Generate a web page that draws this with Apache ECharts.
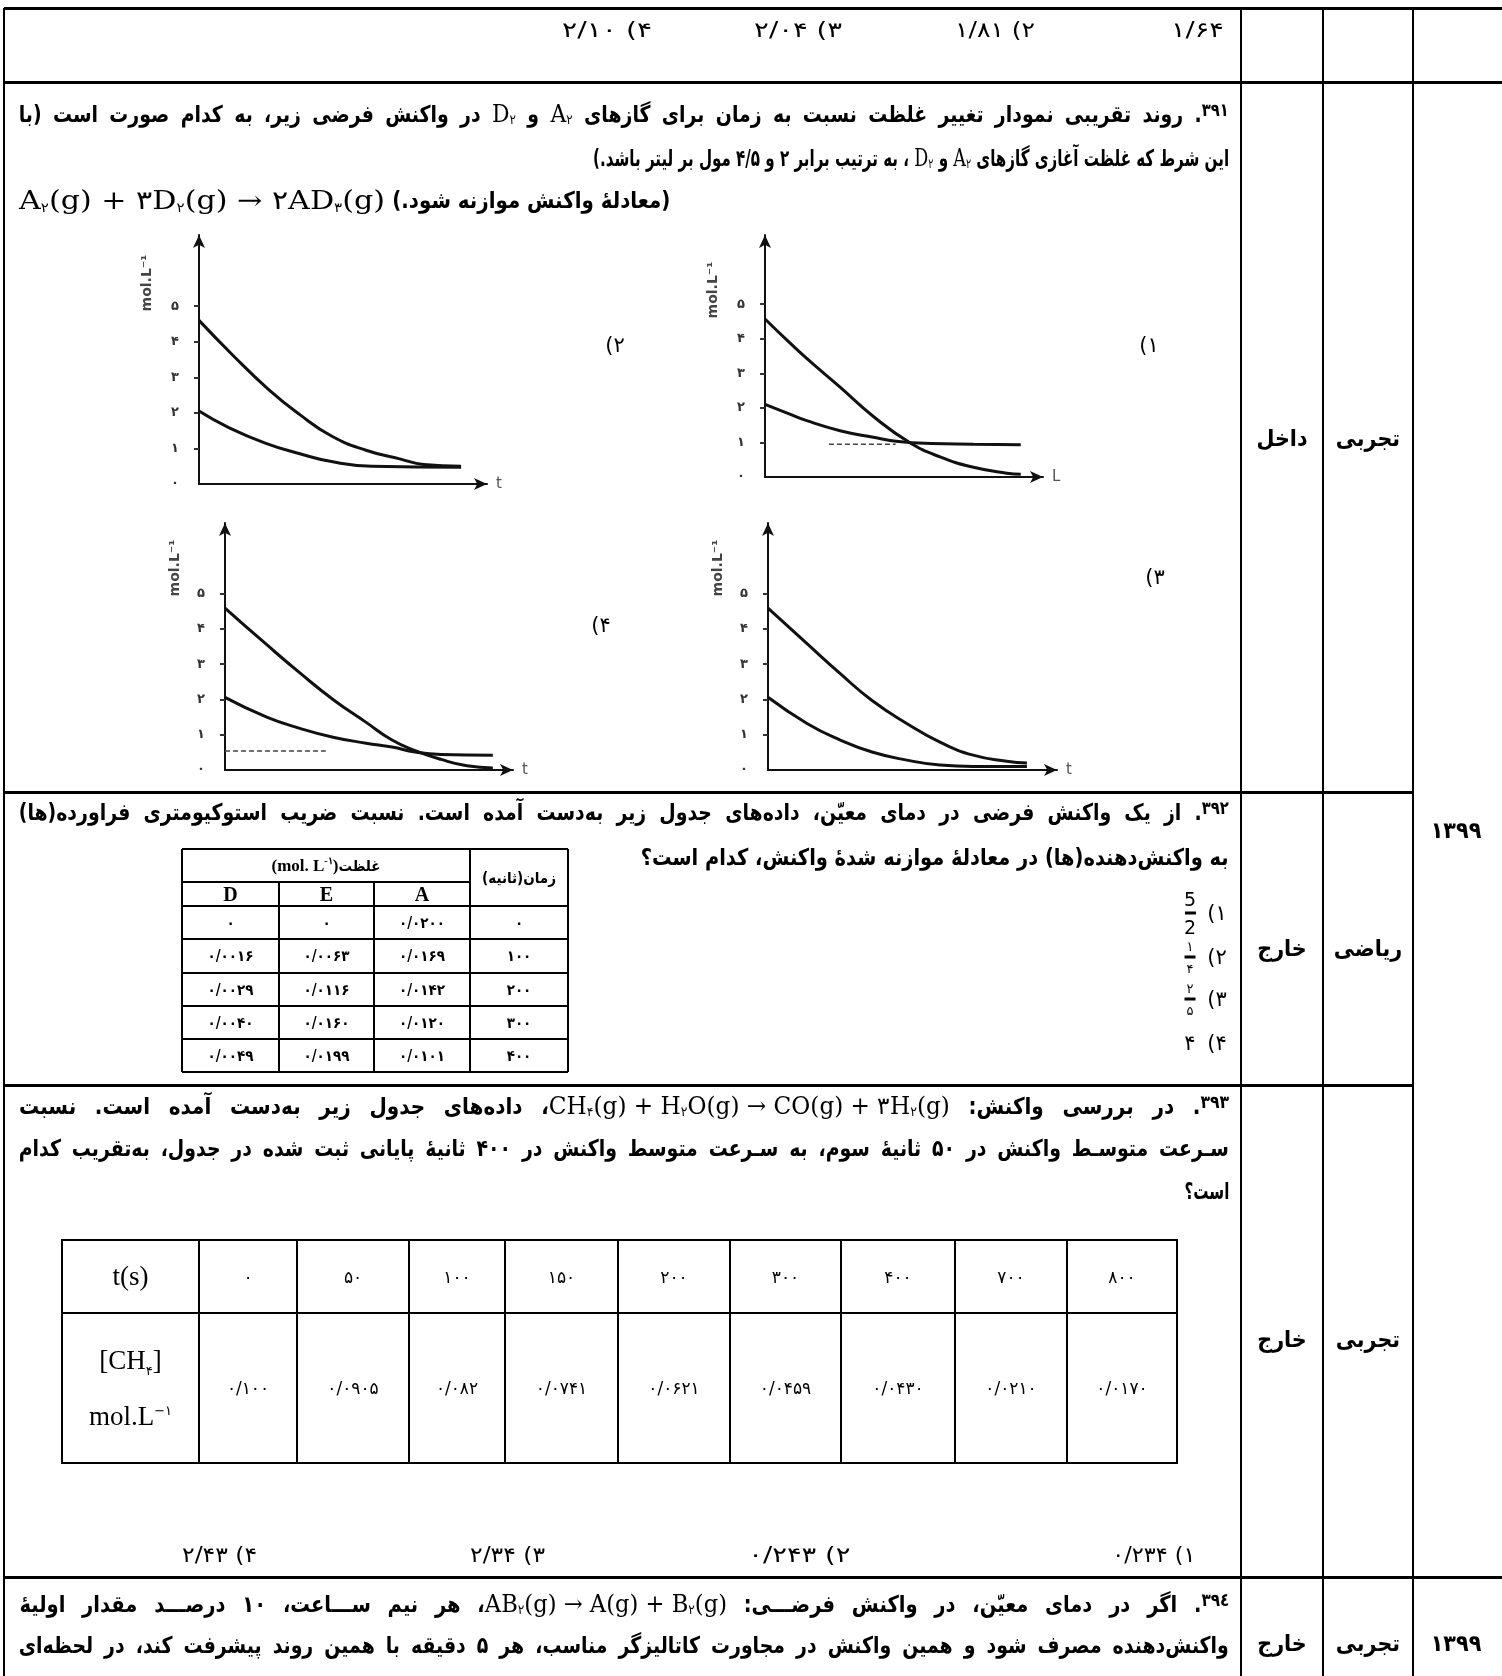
<!DOCTYPE html>
<html>
<head>
<meta charset="utf-8">
<title>۳۹۱-۳۹۴</title>
<script src="https://cdn.jsdelivr.net/npm/echarts@6/dist/echarts.min.js"></script>
<style>
  html, body { margin: 0; padding: 0; background: #fff; }
  #page { position: relative; width: 1502px; height: 1676px; overflow: hidden; background: #fff; }
  #charts { position: absolute; left: 0; top: 0; width: 1502px; height: 1676px; }
  .rule { position: absolute; background: #000; }
  .txt { position: absolute; white-space: nowrap; direction: rtl; color: #000; line-height: 1.35; }
  .cen { position: absolute; white-space: nowrap; color: #000; transform: translate(-50%, -50%); direction: rtl; }
  .cell { position: absolute; display: flex; align-items: center; justify-content: center; text-align: center; color: #000; direction: rtl; }
  .fa { font-family: "DejaVu Sans Condensed", "DejaVu Sans", sans-serif; font-weight: bold; font-size: 23px; }
  .fr { font-family: "DejaVu Sans", sans-serif; font-weight: normal; font-size: 21px; }
  .m { font-family: "DejaVu Serif", "Liberation Serif", serif; font-weight: normal; font-size: 24px; direction: ltr; unicode-bidi: isolate; word-spacing: 0; }
  .m sub { font-family: "DejaVu Sans", sans-serif; font-size: 13px; vertical-align: -0.2em; }
  .qn { font-size: 18px; vertical-align: 0.35em; }
  .t1 { font-family: "DejaVu Sans Condensed", "DejaVu Sans", sans-serif; font-weight: bold; font-size: 15px; }
  .t1h { font-family: "Liberation Serif", "DejaVu Serif", serif; font-weight: bold; font-size: 20px; direction: ltr; }
  .t2 { font-family: "DejaVu Sans", sans-serif; font-size: 17px; }
  .t2h { font-family: "Liberation Serif", "DejaVu Serif", serif; font-size: 27px; direction: ltr; }
  .t2h .ln2 { display: block; height: 56px; line-height: 56px; }
  .t2h sub, .t2h sup { font-family: "DejaVu Sans", sans-serif; font-size: 13px; line-height: 0; }
  .frac { position: absolute; display: flex; flex-direction: column; align-items: center; transform: translate(-50%, -50%); font-family: "DejaVu Sans", sans-serif; line-height: 1; }
  .frac .bar { width: 11px; height: 3px; background: #000; margin: 3px 0; }
</style>
</head>
<body>
<div id="page">
  <div id="charts"></div>
</div>
<script>
// ===== 数据 =====
// 纵轴刻度文字（波斯数字 0~5）
var yTickLabels = ['۰', '۱', '۲', '۳', '۴', '۵'];
// 四个小图的横轴名称：(۱) (۲) (۳) (۴)
var xNames = ['L', 't', 't', 't'];
// 选项(۱) 右上图：横轴为相对时间 0~100，纵轴浓度 mol/L
var c1Upper = [[0, 4.57], [8, 3.95], [15, 3.43], [27, 2.6], [39, 1.75], [52, 1.0], [63, 0.58], [75, 0.28], [87, 0.11], [92, 0.08]];
var c1Lower = [[0, 2.1], [8, 1.85], [15, 1.63], [27, 1.34], [39, 1.15], [48, 1.03], [60, 0.97], [75, 0.95], [92, 0.93]];
var c1Dash = [[23, 0.95], [47, 0.95]];
// 选项(۲) 左上图
var c2Upper = [[0, 4.6], [12, 3.6], [24, 2.67], [35, 1.95], [46, 1.35], [58, 0.95], [70, 0.7], [78, 0.55], [91, 0.5]];
var c2Lower = [[0, 2.05], [10, 1.6], [23, 1.15], [35, 0.85], [46, 0.63], [60, 0.5], [91, 0.47]];
// 选项(۳) 右下图
var c3Upper = [[0, 4.59], [13.5, 3.58], [25, 2.73], [36, 1.97], [48, 1.32], [59.5, 0.79], [71, 0.42], [82.6, 0.25], [89.6, 0.2]];
var c3Lower = [[0, 2.06], [13.5, 1.32], [25, 0.85], [36, 0.51], [48, 0.28], [59.5, 0.14], [71, 0.1], [89.6, 0.1]];
// 选项(۴) 左下图
var c4Upper = [[0, 4.59], [14.5, 3.55], [26, 2.75], [37.5, 2.0], [49, 1.35], [58, 0.85], [66, 0.55], [75, 0.3], [84, 0.12], [93, 0.06]];
var c4Lower = [[0, 2.06], [14.5, 1.5], [26, 1.18], [37.5, 0.93], [49, 0.76], [58, 0.65], [66, 0.51], [75, 0.44], [93, 0.42]];
var c4Dash = [[0, 0.54], [35, 0.54]];

// 题 ۳۹۲ 表格
var t392Time = ['۰', '۱۰۰', '۲۰۰', '۳۰۰', '۴۰۰'];
var t392A = ['۰/۰۲۰۰', '۰/۰۱۶۹', '۰/۰۱۴۲', '۰/۰۱۲۰', '۰/۰۱۰۱'];
var t392E = ['۰', '۰/۰۰۶۳', '۰/۰۱۱۶', '۰/۰۱۶۰', '۰/۰۱۹۹'];
var t392D = ['۰', '۰/۰۰۱۶', '۰/۰۰۲۹', '۰/۰۰۴۰', '۰/۰۰۴۹'];
// 题 ۳۹۳ 表格
var t393Time = ['۰', '۵۰', '۱۰۰', '۱۵۰', '۲۰۰', '۳۰۰', '۴۰۰', '۷۰۰', '۸۰۰'];
var t393Conc = ['۰/۱۰۰', '۰/۰۹۰۵', '۰/۰۸۲', '۰/۰۷۴۱', '۰/۰۶۲۱', '۰/۰۴۵۹', '۰/۰۴۳۰', '۰/۰۲۱۰', '۰/۰۱۷۰'];

// ===== 1. 四个小图（一个echarts实例，四个grid） =====
(function () {
  var myChart = echarts.init(document.getElementById('charts'));

  var grids = [
    { left: 765, top: 235, width: 278, height: 242 },
    { left: 199, top: 235, width: 288, height: 249 },
    { left: 768, top: 523, width: 289, height: 247 },
    { left: 225, top: 523, width: 288, height: 247 }
  ];
  var lines = [
    [c1Upper, c1Lower, c1Dash],
    [c2Upper, c2Lower, null],
    [c3Upper, c3Lower, null],
    [c4Upper, c4Lower, c4Dash]
  ];
  // 纵轴名称位置 mol.L-1（旋转文字）
  var yNamePos = [[713, 290], [147, 283], [718, 568], [175, 568]];

  var axisLine = {
    show: true,
    onZero: false,
    symbol: ['none', 'arrow'],
    symbolSize: [9, 13],
    lineStyle: { color: '#111', width: 2 }
  };

  var xAxis = [], yAxis = [], series = [], graphic = [];
  grids.forEach(function (g, i) {
    g.containLabel = false;
    xAxis.push({
      gridIndex: i,
      type: 'value',
      min: 0,
      max: 100,
      axisLine: axisLine,
      axisTick: { show: false },
      axisLabel: { show: false },
      splitLine: { show: false },
      name: xNames[i],
      nameLocation: 'end',
      nameGap: 9,
      nameTextStyle: { fontSize: 15, color: '#555', fontFamily: 'DejaVu Sans' }
    });
    yAxis.push({
      gridIndex: i,
      type: 'value',
      min: 0,
      max: 7,
      interval: 1,
      axisLine: axisLine,
      axisTick: { show: true, length: 5, customValues: [1, 2, 3, 4, 5], lineStyle: { color: '#333', width: 2 } },
      axisLabel: {
        customValues: [0, 1, 2, 3, 4, 5],
        margin: 20,
        fontSize: 13,
        fontWeight: 'bold',
        fontFamily: 'DejaVu Sans',
        color: '#333',
        formatter: function (v) { return v <= 5 ? yTickLabels[v] : ''; }
      },
      splitLine: { show: false }
    });
    for (var k = 0; k < 2; k++) {
      series.push({
        type: 'line',
        xAxisIndex: i,
        yAxisIndex: i,
        data: lines[i][k],
        smooth: 0.5,
        showSymbol: false,
        silent: true,
        lineStyle: { color: '#111', width: 3 }
      });
    }
    if (lines[i][2]) {
      series.push({
        type: 'line',
        xAxisIndex: i,
        yAxisIndex: i,
        data: lines[i][2],
        showSymbol: false,
        silent: true,
        lineStyle: { color: '#444', width: 1.5, type: [5, 3] }
      });
    }
    graphic.push({
      type: 'text',
      x: yNamePos[i][0],
      y: yNamePos[i][1],
      rotation: Math.PI / 2,
      silent: true,
      style: {
        text: 'mol.L⁻¹',
        fontSize: 14,
        fontWeight: 'bold',
        fontFamily: 'DejaVu Sans',
        fill: '#444',
        align: 'center',
        verticalAlign: 'middle'
      }
    });
  });

  var option = {
    animation: false,
    backgroundColor: 'transparent',
    grid: grids,
    xAxis: xAxis,
    yAxis: yAxis,
    series: series,
    graphic: graphic
  };
  myChart.setOption(option);
  window.addEventListener('resize', function () {
    myChart.resize();
  });
})();

// ===== 2. 页面表格线与文字 =====
(function () {
  var W = 1502;
  var page = document.getElementById('page');
  var S = 1; // 正文字形横向压缩比例（由一行非两端对齐的文字标定）
  function fa(s) { return s.replace(/~/g, '\u200c'); }

  function hline(x1, x2, y, t) {
    var d = document.createElement('div');
    d.className = 'rule';
    d.style.cssText = 'left:' + x1 + 'px;top:' + (y - t / 2) + 'px;width:' + (x2 - x1) + 'px;height:' + t + 'px';
    page.appendChild(d);
  }
  function vline(x, y1, y2, t) {
    var d = document.createElement('div');
    d.className = 'rule';
    d.style.cssText = 'left:' + (x - t / 2) + 'px;top:' + y1 + 'px;width:' + t + 'px;height:' + (y2 - y1) + 'px';
    page.appendChild(d);
  }
  function makeText(html, cls, r, l, y, ltr) {
    var el = document.createElement('div');
    el.className = 'txt ' + cls;
    el.innerHTML = html;
    if (ltr) {
      el.style.left = l + 'px';
      el.style.direction = 'ltr';
      el.style.transformOrigin = 'left center';
    } else {
      el.style.right = (W - r) + 'px';
      el.style.transformOrigin = 'right center';
    }
    el.style.top = y + 'px';
    page.appendChild(el);
    return el;
  }
  // 一行文字：右端 r，若给出 l 则横向缩放到 l~r；未给出 l 则使用正文比例 S
  function putText(html, cls, r, l, y, ltr) {
    var el = makeText(html, cls, r, l, y, ltr);
    var w = el.getBoundingClientRect().width;
    var sx = (l != null && r != null) ? (r - l) / w : S;
    el.style.transform = 'translateY(-50%) scaleX(' + sx + ')';
    return sx;
  }
  // 两端对齐的整行：字形最多放宽到 1.25*S，剩余空间分配给词间距
  function putJust(html, cls, r, l, y) {
    var el = makeText(html, cls, r, l, y, false);
    var avail = r - l;
    var w = el.getBoundingClientRect().width;
    var g = Math.min(avail / w, S * 1.25);
    if (g < avail / w) {
      var n = (el.textContent.match(/ /g) || []).length || 1;
      el.style.wordSpacing = ((avail / g - w) / n) + 'px';
      w = el.getBoundingClientRect().width;
    }
    el.style.transform = 'translateY(-50%) scaleX(' + (avail / w) + ')';
  }
  function putCenter(html, cls, x, y) {
    var el = document.createElement('div');
    el.className = 'cen ' + cls;
    el.innerHTML = html;
    el.style.left = x + 'px';
    el.style.top = y + 'px';
    page.appendChild(el);
  }
  function cell(html, cls, x1, y1, x2, y2) {
    var el = document.createElement('div');
    el.className = 'cell ' + cls;
    el.innerHTML = html;
    el.style.cssText = 'left:' + x1 + 'px;top:' + y1 + 'px;width:' + (x2 - x1) + 'px;height:' + (y2 - y1) + 'px';
    page.appendChild(el);
  }
  function frac(top, bottom, x, y, size) {
    var el = document.createElement('div');
    el.className = 'frac';
    el.style.left = x + 'px';
    el.style.top = y + 'px';
    el.style.fontSize = size + 'px';
    el.innerHTML = '<span>' + top + '</span><span class="bar"></span><span>' + bottom + '</span>';
    page.appendChild(el);
  }

  // 外框与行列线
  hline(4, W, 8, 3);
  vline(4, 8, 1676, 2);
  vline(1241, 8, 1676, 2);
  vline(1323, 8, 1676, 2);
  vline(1413, 8, 1676, 2);
  hline(4, W, 82, 3);
  hline(4, 1414, 792, 3);
  hline(4, 1414, 1085, 3);
  hline(4, W, 1577, 3);

  // 第一行：上一题选项
  putText('۱/۶۴', 'fr', 1224, 1171, 30);
  putText('۲) ۱/۸۱', 'fr', 1035, 955, 30);
  putText('۳) ۲/۰۴', 'fr', 842, 754, 30);
  putText('۴) ۲/۱۰', 'fr', 652, 562, 30);

  // 题 ۳۹۱
  var A2 = '<span class="m">A<sub>۲</sub></span>';
  var D2 = '<span class="m">D<sub>۲</sub></span>';
  S = putText(fa('این شرط که غلظت آغازی گازهای  ' + A2 + ' و ' + D2 + ' ، به ترتیب برابر ۲ و ۴/۵ مول بر لیتر باشد.)'), 'fa', 1229, 593, 158);
  putJust(fa('<span class="qn">۳۹۱</span>. روند تقریبی نمودار تغییر غلظت نسبت به زمان برای گازهای ' + A2 + ' و ' + D2 + ' در واکنش فرضی زیر، به کدام صورت است (با'), 'fa', 1229, 19, 114);
  putText('(معادلهٔ واکنش موازنه شود.)', 'fa', 670, 392, 201);
  putText('<span class="m" style="font-size:26px">A<sub>۲</sub>(g) + ۳D<sub>۲</sub>(g) → ۲AD<sub>۳</sub>(g)</span>', 'fr', 385, 19, 201, true);
  putCenter('۲)', 'fr', 615, 345);
  putCenter('۱)', 'fr', 1149, 345);
  putCenter('۴)', 'fr', 601, 625);
  putCenter('۳)', 'fr', 1155, 577);
  putCenter('داخل', 'fa', 1282, 438);
  putCenter('تجربی', 'fa', 1368, 438);
  putCenter('۱۳۹۹', 'fa', 1456, 830);

  // 题 ۳۹۲
  putJust(fa('<span class="qn">۳۹۲</span>. از یک واکنش فرضی در دمای معیّن، داده~های جدول زیر به~دست آمده است. نسبت ضریب استوکیومتری فراورده(ها)'), 'fa', 1229, 19, 812);
  putText(fa('به واکنش~دهنده(ها) در معادلهٔ موازنه شدهٔ واکنش، کدام است؟'), 'fa', 1229, 641, 858);
  putCenter('۱)', 'fr', 1217, 913);
  putCenter('۲)', 'fr', 1217, 957);
  putCenter('۳)', 'fr', 1217, 999);
  putCenter('۴)', 'fr', 1217, 1043);
  frac('5', '2', 1190, 913, 19);
  frac('۱', '۴', 1190, 957, 13);
  frac('۲', '۵', 1190, 999, 13);
  putCenter('۴', 'fr', 1190, 1043);
  putCenter('خارج', 'fa', 1282, 948);
  putCenter('ریاضی', 'fa', 1368, 948);

  // 题 ۳۹۲ 的表格
  var tc = [182, 279, 374, 470, 568];
  var tr = [849, 882, 906, 939, 973, 1006, 1039, 1072];
  hline(tc[0], tc[4], tr[0], 2);
  hline(tc[0], tc[3], tr[1], 1.5);
  for (var i = 2; i < tr.length; i++) hline(tc[0], tc[4], tr[i], i === tr.length - 1 ? 2 : 1.5);
  vline(tc[0], tr[0], tr[7], 2);
  vline(tc[4], tr[0], tr[7], 2);
  vline(tc[3], tr[0], tr[7], 1.5);
  vline(tc[1], tr[1], tr[7], 1.5);
  vline(tc[2], tr[1], tr[7], 1.5);
  cell('غلظت <span style="direction:ltr;unicode-bidi:isolate;font-family:\'Liberation Serif\',serif;font-size:17px">(mol. L<sup style="font-size:10px">-۱</sup>)</span>', 't1', tc[0], tr[0], tc[3], tr[1]);
  cell('زمان(ثانیه)', 't1', tc[3], tr[0], tc[4], tr[2]);
  cell('D', 't1h', tc[0], tr[1], tc[1], tr[2]);
  cell('E', 't1h', tc[1], tr[1], tc[2], tr[2]);
  cell('A', 't1h', tc[2], tr[1], tc[3], tr[2]);
  for (var r = 0; r < t392Time.length; r++) {
    cell(t392D[r], 't1', tc[0], tr[r + 2], tc[1], tr[r + 3]);
    cell(t392E[r], 't1', tc[1], tr[r + 2], tc[2], tr[r + 3]);
    cell(t392A[r], 't1', tc[2], tr[r + 2], tc[3], tr[r + 3]);
    cell(t392Time[r], 't1', tc[3], tr[r + 2], tc[4], tr[r + 3]);
  }

  // 题 ۳۹۳
  var eq393 = '<span class="m">CH<sub>۴</sub>(g) + H<sub>۲</sub>O(g) → CO(g) + ۳H<sub>۲</sub>(g)</span>';
  putJust(fa('<span class="qn">۳۹۳</span>. در بررسی واکنش: ' + eq393 + '، داده~های جدول زیر به~دست آمده است. نسبت'), 'fa', 1229, 19, 1106);
  putJust(fa('سـرعت متوسـط واکنش در ۵۰ ثانیهٔ سوم، به سـرعت متوسط واکنش در ۴۰۰ ثانیهٔ پایانی ثبت شده در جدول، به~تقریب کدام'), 'fa', 1229, 19, 1149);
  putText('است؟', 'fa', 1229, null, 1192);
  putCenter('خارج', 'fa', 1282, 1339);
  putCenter('تجربی', 'fa', 1368, 1339);

  // 题 ۳۹۳ 的表格
  var bc = [62, 199, 297, 409, 505, 618, 730, 841, 955, 1067, 1177];
  var br = [1240, 1313, 1463];
  br.forEach(function (y) { hline(bc[0] - 1, bc[bc.length - 1] + 1, y, 2.5); });
  bc.forEach(function (x) { vline(x, br[0], br[2], 2.5); });
  cell('t(s)', 't2h', bc[0], br[0], bc[1], br[1]);
  cell('<div><span class="ln2">[CH<sub>۴</sub>]</span><span class="ln2">mol.L<sup>−۱</sup></span></div>', 't2h', bc[0], br[1], bc[1], br[2]);
  for (var c = 0; c < t393Time.length; c++) {
    cell(t393Time[c], 't2', bc[c + 1], br[0], bc[c + 2], br[1]);
    cell(t393Conc[c], 't2', bc[c + 1], br[1], bc[c + 2], br[2]);
  }
  putText('۴) ۲/۴۳', 'fr', 257, 182, 1555);
  putText('۳) ۲/۳۴', 'fr', 545, 470, 1555);
  putText('۲) ۰/۲۴۳', 'fr', 850, 748, 1555);
  putText('۱) ۰/۲۳۴', 'fr', 1195, 1112, 1555);

  // 题 ۳۹۴
  var eq394 = '<span class="m">AB<sub>۲</sub>(g) → A(g) + B<sub>۲</sub>(g)</span>';
  putJust(fa('<span class="qn">۳۹٤</span>. اگر در دمای معیّن، در واکنش فرضـــی: ' + eq394 + '، هر نیم ســـاعت، ۱۰ درصـــد مقدار اولیهٔ'), 'fa', 1229, 19, 1604);
  putJust(fa('واکنش~دهنده مصرف شود و همین واکنش در مجاورت کاتالیزگر مناسب، هر ۵ دقیقه با همین روند پیشرفت کند، در لحظه~ای'), 'fa', 1229, 19, 1646);
  putCenter('خارج', 'fa', 1282, 1643);
  putCenter('تجربی', 'fa', 1368, 1643);
  putCenter('۱۳۹۹', 'fa', 1456, 1643);
})();
</script>
</body>
</html>
